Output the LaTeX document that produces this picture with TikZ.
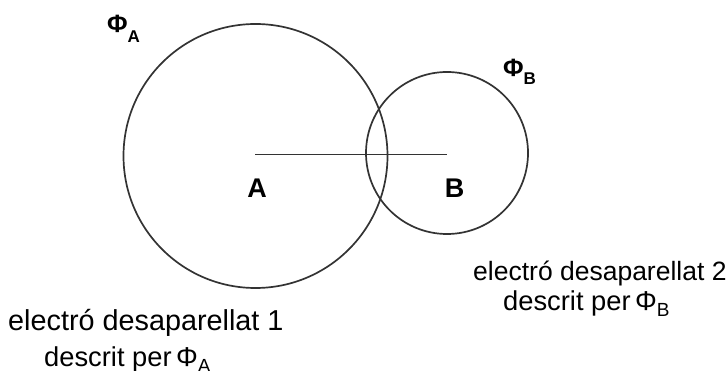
\documentclass[tikz,border=0pt]{standalone}
\usepackage{fontspec}
\setmainfont{Liberation Sans}
\begin{document}
\begin{tikzpicture}[x=1pt,y=-1pt,
  ring/.style={circle, draw=black!80, line width=1.7pt, inner sep=0pt},
  bond/.style={draw=black!80, line width=1.7pt},
  atomlbl/.style={inner sep=0pt, anchor=base, font=\fontsize{27}{27}\selectfont\bfseries},
  philbl/.style={inner sep=0pt, anchor=base west, font=\fontsize{25}{25}\selectfont\bfseries},
  capL/.style={inner sep=0pt, anchor=base west, font=\fontsize{28.8}{30}\selectfont},
  capR/.style={inner sep=0pt, anchor=base west, font=\fontsize{26.5}{28}\selectfont},
  capS/.style={inner sep=0pt, anchor=base west, font=\fontsize{27.3}{28}\selectfont}]
\useasboundingbox (0,0) rectangle (727,371);
\node[ring, minimum size=264pt] (cA) at (255.5,156) {};
\node[ring, minimum size=162pt] (cB) at (447,153) {};
\coordinate (A) at (255,154.5);
\coordinate (B) at (447,154.5);
\draw[bond] (A) -- (B);
\node[atomlbl] (la) at (257,197) {A};
\node[atomlbl] (lb) at (454.5,197) {B};
\node[philbl] (pa) at (107,33) {Φ\raisebox{-10pt}{\fontsize{17}{17}\selectfont A}};
\node[philbl] (pb) at (503,77) {Φ\raisebox{-8pt}{\fontsize{17}{17}\selectfont B}};
\node[capL] (l1) at (8,330) {electró desaparellat 1};
\node[capS] (l2) at (44,366) {descrit per\,Φ\raisebox{-6pt}{\fontsize{19}{19}\selectfont A}};
\node[capR] (r1) at (473,280) {electró desaparellat 2};
\node[capS] (r2) at (503,310) {descrit per\,Φ\raisebox{-6pt}{\fontsize{19}{19}\selectfont B}};
\end{tikzpicture}
\end{document}
